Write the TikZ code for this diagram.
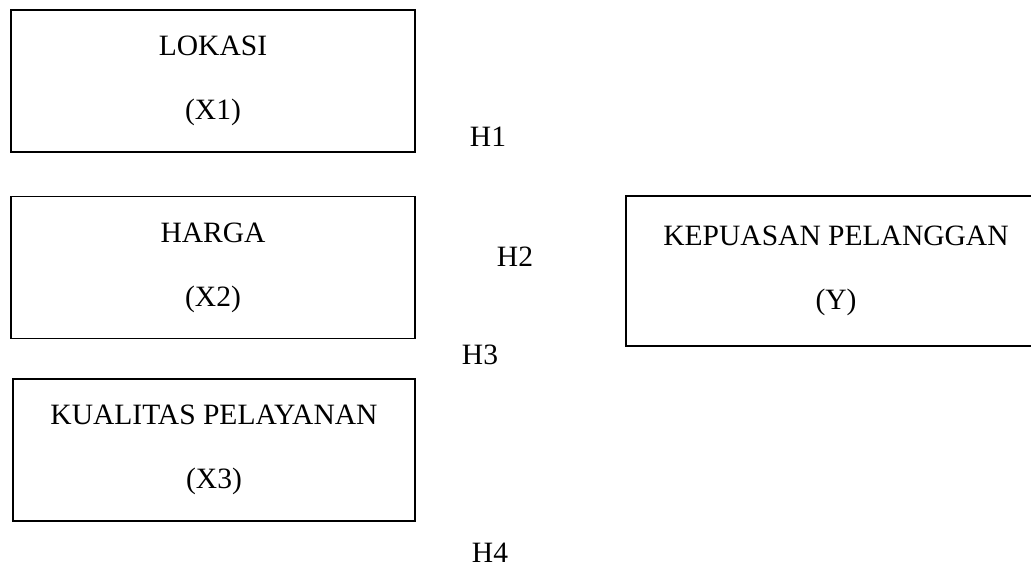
\documentclass[tikz,border=0pt]{standalone}
\usepackage{fontspec}
\setmainfont{Liberation Serif}
\usepackage{tikz}

\begin{document}
\begin{tikzpicture}[x=1cm, y=1cm,
    varbox/.style={draw=black, line width=1pt, inner sep=0pt, align=center,
      font=\fontsize{21}{45}\selectfont, minimum width=10.1cm, minimum height=3.55cm},
    hyp/.style={font=\fontsize{21}{25}\selectfont, inner sep=0pt}]
    \useasboundingbox (0, 0) rectangle (25.775, 14.325);
    % variabel bebas
    \node[varbox] (X1) at (5.325, 12.3) {LOKASI\\(X1)};
    \node[varbox] (X2) at (5.325, 7.63) {HARGA\\(X2)};
    \node[varbox, minimum width=10.05cm] (X3) at (5.35, 3.075) {KUALITAS PELAYANAN\\(X3)};
    % variabel terikat (sisi kanan terpotong)
    \node[varbox, minimum width=10.5cm, minimum height=3.75cm] (Y) at (20.9, 7.55) {KEPUASAN PELANGGAN\\(Y)};
    % hipotesis
    \node[hyp] (H1) at (12.2, 10.9) {H1};
    \node[hyp] (H2) at (12.875, 7.9) {H2};
    \node[hyp] (H3) at (12.0, 5.45) {H3};
    \node[hyp] (H4) at (12.25, 0.5) {H4};
  \end{tikzpicture}
\end{document}
